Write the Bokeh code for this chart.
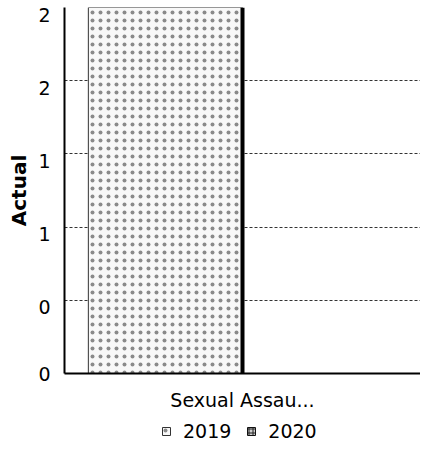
from bokeh.plotting import figure
from bokeh.layouts import column
from bokeh.models import (ColumnDataSource, FixedTicker, NumeralTickFormatter,
                          Legend, LegendItem, Range1d, FactorRange)
from bokeh.transform import dodge
from bokeh.embed import file_html
from bokeh.resources import INLINE

# ---- data ----
categories = ["Sexual Assau..."]
actual_2019 = [2]
actual_2020 = [0]
years = ["2019", "2020"]
y_ticks = [0, 0.4, 0.8, 1.2, 1.6, 2.0]
y_max = 2

src = ColumnDataSource(dict(cat=categories, y2019=actual_2019, y2020=actual_2020,
                            base=[0] * len(categories)))

FONT = "DejaVu Sans"
W = 420
TOP, BOTTOM = 7, 47
H_MAIN = 420
frame_h = H_MAIN - TOP - BOTTOM

p = figure(x_range=FactorRange(factors=categories, range_padding=0),
           y_range=Range1d(0, y_max),
           width=W, height=H_MAIN, output_backend="svg", toolbar_location=None,
           min_border_left=64, min_border_right=0, min_border_top=TOP,
           min_border_bottom=BOTTOM)
p.outline_line_color = None
p.background_fill_color = "white"

bw = 0.433
style19 = dict(fill_color="#f8f8f8", hatch_pattern="dot", hatch_color="#8a8a8a",
               hatch_scale=8, hatch_weight=1, line_color="#333333", line_width=1)
style20 = dict(fill_color="#cfcfcf", hatch_pattern="cross", hatch_color="#222222",
               hatch_scale=4, hatch_weight=1, line_color="#111111", line_width=1)

r19 = p.vbar(x=dodge("cat", -bw / 2, range=p.x_range), top="y2019", width=bw,
             source=src, **style19)
r20 = p.vbar(x=dodge("cat", bw / 2, range=p.x_range), top="y2020", width=bw,
             source=src, **style20)
# dark edge where the 2019 bar meets the 2020 bar
p.segment(x0=dodge("cat", 0, range=p.x_range), y0="base",
          x1=dodge("cat", 0, range=p.x_range), y1="y2019",
          source=src, line_color="black", line_width=4)

# y axis: labels sit a few pixels below their gridlines, as in the reference
shift = 7 * y_max / frame_h
label_pos = [t - shift if t > 0 else t for t in y_ticks]
p.yaxis.ticker = FixedTicker(ticks=label_pos)
p.yaxis.formatter = NumeralTickFormatter(format="0")
p.yaxis.axis_label = "Actual"
p.yaxis.axis_label_text_font = FONT
p.yaxis.axis_label_text_font_style = "bold"
p.yaxis.axis_label_text_font_size = "20px"
p.yaxis.axis_label_text_color = "black"
p.yaxis.axis_label_standoff = 4
p.yaxis.major_label_text_font = FONT
p.yaxis.major_label_text_font_size = "19px"
p.yaxis.major_label_text_color = "black"
p.yaxis.major_label_standoff = 8
p.yaxis.major_tick_line_color = None
p.yaxis.minor_tick_line_color = None
p.yaxis.axis_line_color = "black"
p.yaxis.axis_line_width = 2

# x axis
p.xaxis.major_label_text_font = FONT
p.xaxis.major_label_text_font_size = "19px"
p.xaxis.major_label_text_color = "black"
p.xaxis.major_label_standoff = 9
p.xaxis.major_tick_line_color = None
p.xaxis.minor_tick_line_color = None
p.xaxis.axis_line_color = "black"
p.xaxis.axis_line_width = 2

# grid
p.xgrid.grid_line_color = None
p.ygrid.ticker = FixedTicker(ticks=y_ticks)
p.ygrid.grid_line_color = "#333333"
p.ygrid.grid_line_dash = "3 2"
p.ygrid.grid_line_width = 1

# legend strip below the chart
lf = figure(x_range=p.x_range, y_range=Range1d(10, 11), width=W, height=22,
            output_backend="svg", toolbar_location=None,
            x_axis_location=None, y_axis_location=None, min_border=0)
lf.outline_line_color = None
lf.xgrid.grid_line_color = None
lf.ygrid.grid_line_color = None
l19 = lf.vbar(x=dodge("cat", -bw / 2, range=lf.x_range), top="y2019", width=bw,
              source=src, **style19)
l20 = lf.vbar(x=dodge("cat", bw / 2, range=lf.x_range), top="y2020", width=bw,
              source=src, **style20)
legend = Legend(items=[LegendItem(label=years[0], renderers=[l19]),
                       LegendItem(label=years[1], renderers=[l20])],
                orientation="horizontal", location=(97, 0),
                label_text_font=FONT, label_text_font_size="19px",
                label_text_color="black", glyph_width=10, glyph_height=10,
                label_height=20, label_standoff=12, spacing=15, padding=0,
                margin=0, border_line_color=None, background_fill_alpha=0)
lf.add_layout(legend, "center")

layout = column(p, lf, spacing=0)
open("out.html", "w").write(file_html(layout, INLINE))
